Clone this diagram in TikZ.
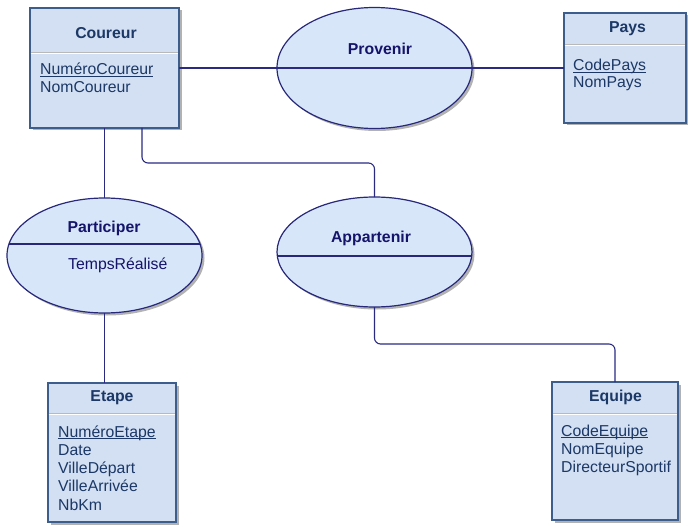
\documentclass[tikz,border=0pt]{standalone}
\usepackage{fontspec}
\setmainfont{Liberation Sans}
\usetikzlibrary{shapes.geometric,shadows,calc}

\definecolor{boxfill}{HTML}{D3E0F3}
\definecolor{boxline}{HTML}{3D5E8C}
\definecolor{boxtext}{HTML}{1B3866}
\definecolor{ellfill}{HTML}{D8E6FA}
\definecolor{ellline}{HTML}{27287A}
\definecolor{elltext}{HTML}{14146A}
\definecolor{linkcol}{HTML}{2A2A82}

% primary-key attribute: fixed underline just below the baseline
\newcommand\keyattr[1]{\setbox0\hbox{#1}\rlap{\rule[-2.2pt]{\wd0}{0.8pt}}\box0}

\tikzset{
  softshadow/.style={drop shadow={shadow xshift=2.5pt, shadow yshift=-2.5pt, fill=black, opacity=0.3}},
  entity/.style={draw=boxline, fill=boxfill, line width=1.1pt, inner sep=0pt, outer sep=0pt,
                 anchor=north west, softshadow},
  relation/.style={ellipse, draw=ellline, fill=ellfill, line width=1.2pt, inner sep=0pt, outer sep=0pt, softshadow},
  headtext/.style={font=\fontsize{15.8}{18}\selectfont\bfseries, text=boxtext, anchor=base, inner sep=0pt},
  attrtext/.style={font=\fontsize{15.8}{18}\selectfont, text=boxtext, anchor=base west, inner sep=0pt},
  reltext/.style={font=\fontsize{15.8}{18}\selectfont\bfseries, text=elltext, anchor=base, inner sep=0pt},
  relattr/.style={font=\fontsize{15.8}{18}\selectfont, text=elltext, anchor=base west, inner sep=0pt},
  divider/.style={draw=gray!55, line width=0.7pt},
  divlight/.style={draw=white, line width=1pt},
  reldiv/.style={draw=ellline, line width=1.2pt},
  link/.style={draw=linkcol, line width=1.1pt, rounded corners=6pt},
}

\begin{document}
\begin{tikzpicture}[x=1pt, y=-1pt]
\useasboundingbox (0,0) rectangle (688,532);

% ---- entities ----
\node[entity, minimum width=149pt, minimum height=120pt] (coureur) at (30,8) {};
\node[entity, minimum width=122pt, minimum height=110pt] (pays) at (564,13) {};
\node[entity, minimum width=128pt, minimum height=139pt] (etape) at (48,383) {};
\node[entity, minimum width=126pt, minimum height=138pt] (equipe) at (552,382) {};

% header separators
\foreach \ent/\dy in {coureur/44, pays/31, etape/30, equipe/31} {
  \draw[divider] ($(\ent.north west)+(0.6,\dy)$) -- ($(\ent.north east)+(-0.6,\dy)$);
  \draw[divlight] ($(\ent.north west)+(0.6,\dy+1.2)$) -- ($(\ent.north east)+(-0.6,\dy+1.2)$);
}

% ---- relations ----
\node[relation, minimum width=195pt, minimum height=121pt] (provenir) at (374.5,68) {};
\node[relation, minimum width=195pt, minimum height=115pt] (participer) at (104.5,255.5) {};
\node[relation, minimum width=195pt, minimum height=110pt] (appartenir) at (374.5,252) {};

% relation separators
\begin{scope}
  \clip (participer.center) ellipse [x radius=97.5pt, y radius=57.5pt];
  \draw[reldiv] (0,244) -- (220,244);
\end{scope}
\begin{scope}
  \clip (appartenir.center) ellipse [x radius=97.5pt, y radius=55pt];
  \draw[reldiv] (270,256) -- (480,256);
\end{scope}

% ---- connectors ----
\draw[link] (coureur.east |- provenir.center) -- (pays.west |- provenir.center);
\draw[link] (coureur.south -| participer.north) -- (participer.north);
\draw[link] ([xshift=37.5pt]coureur.south) -- ++(0,35) -| (appartenir.north);
\draw[link] (participer.south) -- (participer.south |- etape.north);
\draw[link] (appartenir.south) -- ++(0,37) -| (equipe.north);

% ---- entity names ----
\node[headtext] (tcoureur) at (106,39) {Coureur};
\node[headtext] (tpays) at (627.5,33) {Pays};
\node[headtext] (tetape) at (112,401) {Etape};
\node[headtext] (tequipe) at (615.5,401) {Equipe};

% ---- attributes ----
\node[attrtext] (c1) at (40,75) {\keyattr{NuméroCoureur}};
\node[attrtext] (c2) at (40,93) {NomCoureur};

\node[attrtext] (p1) at (573,71) {\keyattr{CodePays}};
\node[attrtext] (p2) at (573,88) {NomPays};

\node[attrtext] (e1) at (58,437) {\keyattr{NuméroEtape}};
\node[attrtext] (e2) at (58,455.3) {Date};
\node[attrtext] (e3) at (58,473.6) {VilleDépart};
\node[attrtext] (e4) at (58,491.9) {VilleArrivée};
\node[attrtext] (e5) at (58,510.2) {NbKm};

\node[attrtext] (q1) at (561,436) {\keyattr{CodeEquipe}};
\node[attrtext] (q2) at (561,454.3) {NomEquipe};
\node[attrtext] (q3) at (561,472.6) {DirecteurSportif};

% ---- relation names ----
\node[reltext] (tprovenir) at (380,55) {Provenir};
\node[reltext] (tparticiper) at (104,232) {Participer};
\node[relattr] (atemps) at (68,269) {TempsRéalisé};
\node[reltext] (tappartenir) at (371,242) {Appartenir};
\end{tikzpicture}
\end{document}
